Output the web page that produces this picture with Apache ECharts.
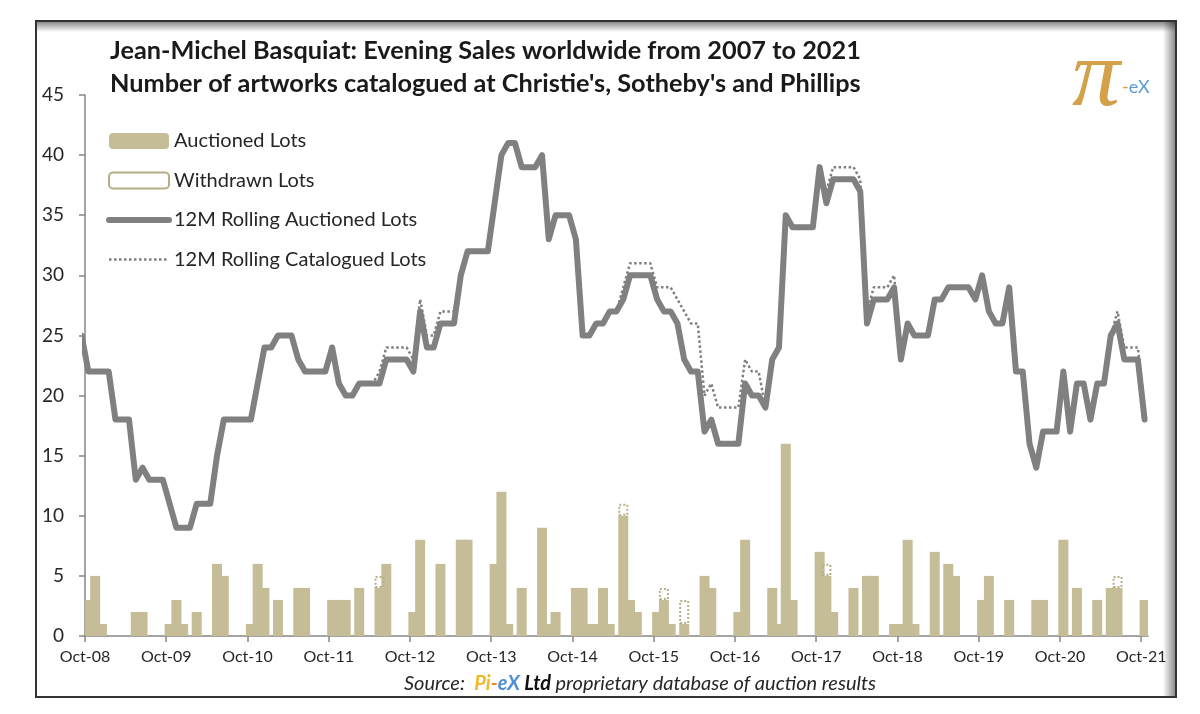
<!DOCTYPE html>
<html><head><meta charset="utf-8">
<script src="https://cdn.jsdelivr.net/npm/echarts@6/dist/echarts.min.js"></script>
<style>html,body{margin:0;padding:0;background:#fff}#c{width:1200px;height:714px}</style>
</head><body><div id="c"></div>
<script>
// ---- DATA (monthly, Oct-08 .. Oct-21) ----
const tickLabels = ['Oct-08','Oct-09','Oct-10','Oct-11','Oct-12','Oct-13','Oct-14','Oct-15','Oct-16','Oct-17','Oct-18','Oct-19','Oct-20','Oct-21'];
const tickMonths = [0,12,24,36,48,60,72,84,96,108,120,132,144,156];

// Auctioned lots per month, starting Oct-08 (157 months)
const auctioned = [
  3,5,1,0,0,0,0,2,2,0,0,0,
  1,3,1,0,2,0,0,6,5,0,0,0,
  1,6,4,0,3,0,0,4,4,0,0,0,
  3,3,3,0,4,0,0,4,6,0,0,0,
  2,8,0,0,6,0,0,8,8,0,0,0,
  6,12,1,0,4,0,0,9,1,2,0,0,
  4,4,1,1,4,1,0,10,3,2,0,0,
  2,3,1,0,1,0,0,5,4,0,0,0,
  2,8,0,0,0,4,1,16,3,0,0,0,
  7,5,2,0,0,4,0,5,5,0,0,1,
  1,8,1,0,0,7,0,6,5,0,0,0,
  3,5,0,0,3,0,0,0,3,3,0,0,
  8,0,4,0,0,3,0,4,4,0,0,0,
  3
];
// Withdrawn lots per month, starting Oct-08
const withdrawn = [
  0,0,0,0,0,0,0,0,0,0,0,0,
  0,0,0,0,0,0,0,0,0,0,0,0,
  0,0,0,0,0,0,0,0,0,0,0,0,
  0,0,0,0,0,0,0,1,0,0,0,0,
  0,0,0,0,0,0,0,0,0,0,0,0,
  0,0,0,0,0,0,0,0,0,0,0,0,
  0,0,0,0,0,0,0,1,0,0,0,0,
  0,1,0,0,2,0,0,0,0,0,0,0,
  0,0,0,0,0,0,0,0,0,0,0,0,
  0,1,0,0,0,0,0,0,0,0,0,0,
  0,0,0,0,0,0,0,0,0,0,0,0,
  0,0,0,0,0,0,0,0,0,0,0,0,
  0,0,0,0,0,0,0,0,1,0,0,0,
  0
];
// 12M rolling lines, starting Sep-08 (one month before the axis start)
const lineStartMonth = -1;
const rollingAuctioned = [
  25,
  22,22,22,22,18,18,18,13,14,13,13,13,
  11,9,9,9,11,11,11,15,18,18,18,18,
  18,21,24,24,25,25,25,23,22,22,22,22,
  24,21,20,20,21,21,21,21,23,23,23,23,
  22,27,24,24,26,26,26,30,32,32,32,32,
  36,40,41,41,39,39,39,40,33,35,35,35,
  33,25,25,26,26,27,27,28,30,30,30,30,
  28,27,27,26,23,22,22,17,18,16,16,16,
  16,21,20,20,19,23,24,35,34,34,34,34,
  39,36,38,38,38,38,37,26,28,28,28,29,
  23,26,25,25,25,28,28,29,29,29,29,28,
  30,27,26,26,29,22,22,16,14,17,17,17,
  22,17,21,21,18,21,21,25,26,23,23,23,
  18
];
const rollingCatalogued = [
  25,
  22,22,22,22,18,18,18,13,14,13,13,13,
  11,9,9,9,11,11,11,15,18,18,18,18,
  18,21,24,24,25,25,25,23,22,22,22,22,
  24,21,20,20,21,21,21,22,24,24,24,24,
  23,28,25,25,27,27,27,30,32,32,32,32,
  36,40,41,41,39,39,39,40,33,35,35,35,
  33,25,25,26,26,27,27,29,31,31,31,31,
  29,29,29,28,27,26,26,20,21,19,19,19,
  19,23,22,22,19,23,24,35,34,34,34,34,
  39,37,39,39,39,39,38,27,29,29,29,30,
  24,26,25,25,25,28,28,29,29,29,29,28,
  30,27,26,26,29,22,22,16,14,17,17,17,
  22,17,21,21,18,21,21,25,27,24,24,24,
  19
];
const seriesNames = ['Auctioned Lots','Withdrawn Lots','12M Rolling Auctioned Lots','12M Rolling Catalogued Lots'];

// ---- BUILD ----
const FONT = 'Lato';
const nMonths = auctioned.length;
const monthCats = auctioned.map((_, i) => String(i));
const wdData = withdrawn.map(v => v > 0 ? v : null);
const rollA = rollingAuctioned.map((v, j) => [lineStartMonth + j + 0.5, v]);
const rollC = rollingCatalogued.map((v, j) => [lineStartMonth + j + 0.5, v]);

const chart = echarts.init(document.getElementById('c'));
chart.setOption({
  animation: false,
  backgroundColor: '#ffffff',
  textStyle: {fontFamily: FONT},
  grid: {left: 85, right: 52, top: 95, bottom: 78},
  legend: {
    orient: 'vertical', left: 101, top: 126,
    itemWidth: 60, itemHeight: 16, itemGap: 19.5,
    data: [
      {name: seriesNames[0]},
      {name: seriesNames[1]},
      {name: seriesNames[2], itemStyle: {opacity: 0}, lineStyle: {width: 6, color: '#808080', cap: 'round'}},
      {name: seriesNames[3], itemStyle: {opacity: 0}, lineStyle: {width: 2.5, color: '#7f7f7f', type: 'dotted'}}
    ],
    textStyle: {fontFamily: FONT, fontSize: 20, color: '#262626'}
  },
  xAxis: [
    {type: 'category', data: monthCats, boundaryGap: true,
      axisLine: {show: false}, axisTick: {show: false}, axisLabel: {show: false}, splitLine: {show: false}},
    {type: 'value', min: 0, max: nMonths, interval: 12, position: 'bottom',
      axisLine: {show: true, lineStyle: {color: '#868686', width: 1.5}},
      axisTick: {show: true, length: 6, lineStyle: {color: '#868686', width: 1.5}, customValues: tickMonths},
      axisLabel: {fontFamily: FONT, fontSize: 16, color: '#262626', margin: 13, customValues: tickMonths,
        formatter: (v) => { const k = tickMonths.indexOf(v); return k >= 0 ? tickLabels[k] : ''; }},
      splitLine: {show: false}}
  ],
  yAxis: {
    type: 'value', min: 0, max: 45, interval: 5,
    axisLine: {show: true, lineStyle: {color: '#868686', width: 1.5}},
    axisTick: {show: true, length: 6, lineStyle: {color: '#868686', width: 1.5}},
    axisLabel: {fontFamily: FONT, fontSize: 19, color: '#262626', margin: 21},
    splitLine: {show: false}
  },
  series: [
    {name: seriesNames[0], type: 'bar', xAxisIndex: 0, stack: 'lots', barWidth: 10, data: auctioned,
      itemStyle: {color: '#C4BD97'}},
    {name: seriesNames[1], type: 'bar', xAxisIndex: 0, stack: 'lots', barWidth: 10, data: wdData,
      itemStyle: {color: 'rgba(255,255,255,0)', borderColor: '#b8ae86', borderType: 'dotted', borderWidth: 2}},
    {name: seriesNames[3], type: 'line', xAxisIndex: 1, data: rollC, symbol: 'none', z: 3,
      itemStyle: {color: '#7f7f7f'},
      lineStyle: {color: '#7f7f7f', width: 2.5, type: 'dotted'}},
    {name: seriesNames[2], type: 'line', xAxisIndex: 1, data: rollA, symbol: 'none', z: 4,
      itemStyle: {color: '#808080'},
      lineStyle: {color: '#808080', width: 6, cap: 'round', join: 'round'}}
  ],
  graphic: [
    {type: 'rect', shape: {x: 36, y: 21, width: 1140, height: 676}, style: {fill: 'none', stroke: '#333', lineWidth: 2}, z: 10, silent: true},
    {type: 'rect', shape: {x: 37, y: 22, width: 1138, height: 10}, style: {fill: new echarts.graphic.LinearGradient(0, 0, 0, 1, [{offset: 0, color: 'rgba(0,0,0,0.45)'}, {offset: 1, color: 'rgba(0,0,0,0)'}])}, z: 9, silent: true},
    {type: 'rect', shape: {x: 1163, y: 22, width: 12, height: 674}, style: {fill: new echarts.graphic.LinearGradient(0, 0, 1, 0, [{offset: 0, color: 'rgba(0,0,0,0)'}, {offset: 1, color: 'rgba(0,0,0,0.45)'}])}, z: 9, silent: true},
    {type: 'text', left: 110, top: 34, z: 10, style: {
      text: "Jean-Michel Basquiat: Evening Sales worldwide from 2007 to 2021\nNumber of artworks catalogued at Christie's, Sotheby's and Phillips",
      font: "bold 25.3px Lato", fill: '#1a1a1a', lineHeight: 33}},
    {type: 'text', x: 1096, y: 128, z: 10, style: {text: 'π', font: 'italic 96px "Liberation Serif"', fill: '#d4a04a', align: 'center', verticalAlign: 'bottom'}},
    {type: 'text', x: 1122, y: 96, z: 10, style: {text: '{o|-}{b|eX}', verticalAlign: 'bottom',
      rich: {o: {fill: '#e39a33', font: '18px Lato'}, b: {fill: '#5b9bd5', font: '18px Lato'}}}},
    {type: 'text', x: 640, y: 684, z: 10, style: {
      text: '{s|Source:  }{p|Pi}{d|-}{e|eX }{l|Ltd }{s|proprietary database of auction results}',
      align: 'center', verticalAlign: 'middle',
      rich: {
        s: {font: 'italic 20px Lato', fill: '#262626'},
        p: {font: 'italic bold 20px Lato', fill: '#f2b824'},
        d: {font: 'italic bold 20px Lato', fill: '#e8842c'},
        e: {font: 'italic bold 20px Lato', fill: '#4f8fd6'},
        l: {font: 'italic bold 20px Lato', fill: '#111'}
      }}}
  ]
});
</script>
</body></html>
